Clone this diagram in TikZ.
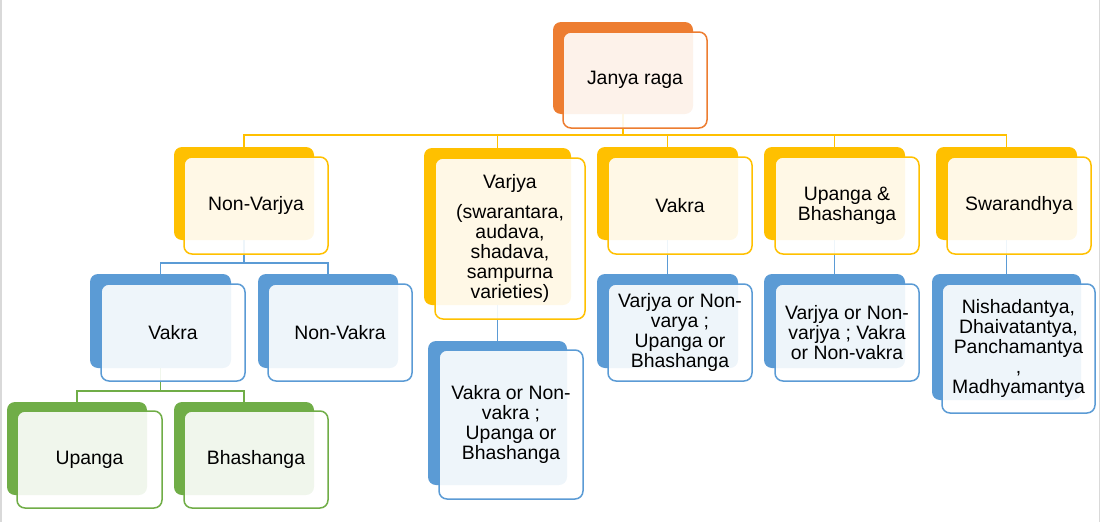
\documentclass[tikz,border=0pt]{standalone}
\usepackage{fontspec}
\setmainfont{Liberation Sans}
\definecolor{cOr}{HTML}{ED7D31}
\definecolor{cYe}{HTML}{FFC000}
\definecolor{cBl}{HTML}{5B9BD5}
\definecolor{cGr}{HTML}{70AD47}
\definecolor{cEdge}{HTML}{D9D9D9}
\begin{document}
\begin{tikzpicture}[x=1pt,y=-1pt,
  sz/.style 2 args={minimum width=#1pt, minimum height=#2pt},
  back/.style={rectangle, rounded corners=8pt, inner sep=0pt, fill=#1},
  front/.style={rectangle, rounded corners=8pt, inner sep=0pt, draw=#1, line width=1.5pt,
    fill=white, fill opacity=0.9, draw opacity=1, text opacity=1, align=center, text=black,
    font=\fontsize{19.4}{20}\selectfont},
  link/.style={draw=#1, line width=1.5pt},
]
\useasboundingbox (0,0) rectangle (1100,522);
\draw[cEdge, line width=1.5pt] (0.75,0) -- (0.75,522);
\draw[cEdge, line width=1.5pt] (1099.25,0) -- (1099.25,522);

% back plates
\node[back=cOr, sz={140}{92}]  (rootb) at (623,68) {};
\node[back=cYe, sz={140}{93}]  (nvb)   at (244,193.5) {};
\node[back=cYe, sz={147}{157}] (vab)   at (497.5,226.5) {};
\node[back=cYe, sz={141}{93}]  (vkb)   at (667.5,193.5) {};
\node[back=cYe, sz={141}{93}]  (ubb)   at (834.5,193.5) {};
\node[back=cYe, sz={141}{93}]  (swb)   at (1006.5,193.5) {};
\node[back=cBl, sz={141}{94}]  (nvvb)  at (160.5,321) {};
\node[back=cBl, sz={140}{94}]  (nvnb)  at (328,321) {};
\node[back=cBl, sz={139}{144}] (vacb)  at (497.5,413) {};
\node[back=cBl, sz={141}{94}]  (vkcb)  at (667.5,321) {};
\node[back=cBl, sz={141}{94}]  (ubcb)  at (834.5,321) {};
\node[back=cBl, sz={149}{126}] (swcb)  at (1006.5,337) {};
\node[back=cGr, sz={140}{93}]  (upb)   at (77,448.5) {};
\node[back=cGr, sz={140}{93}]  (bhb)   at (244,448.5) {};

% connectors
\foreach \c in {nvb,vab,vkb,ubb,swb}
  \draw[link=cYe] (rootb.south) -- ++(0,21) -| (\c.north);
\foreach \c in {nvvb,nvnb}
  \draw[link=cBl] (nvb.south) -- ++(0,23) -| (\c.north);
\draw[link=cBl] (vab.south) -- (vacb.north);
\draw[link=cBl] (vkb.south) -- (vkcb.north);
\draw[link=cBl] (ubb.south) -- (ubcb.north);
\draw[link=cBl] (swb.south) -- (swcb.north);
\foreach \c in {upb,bhb}
  \draw[link=cGr] (nvvb.south) -- ++(0,23) -| (\c.north);

% front cards
\node[front=cOr, sz={144}{96}]  (root) at (635,80) {Janya raga};
\node[front=cYe, sz={144}{97}]  (nv)   at (256,205.5) {Non-Varjya};
\node[front=cYe, sz={150}{161}] (va)   at (510,238.5) {Varjya\\[10pt](swarantara,\\audava,\\shadava,\\sampurna\\varieties)};
\node[front=cYe, sz={144}{97}]  (vk)   at (680,205.5) {Vakra};
\node[front=cYe, sz={144}{97}]  (ub)   at (847,205.5) {Upanga \&\\Bhashanga};
\node[front=cYe, sz={144}{97}]  (sw)   at (1019,205.5) {Swarandhya};
\node[front=cBl, sz={144}{97}]  (nvv)  at (173,332.5) {Vakra};
\node[front=cBl, sz={144}{97}]  (nvn)  at (340,332.5) {Non-Vakra};
\node[front=cBl, sz={144}{149}] (vac)  at (511,424.5) {Vakra or Non-\\vakra ;\\Upanga or\\Bhashanga};
\node[front=cBl, sz={144}{97}]  (vkc)  at (680,332.5) {Varjya or Non-\\varya ;\\Upanga or\\Bhashanga};
\node[front=cBl, sz={144}{97}]  (ubc)  at (847,332.5) {Varjya or Non-\\varjya ; Vakra\\or Non-vakra};
\node[front=cBl, sz={153}{129}] (swc)  at (1018.5,348.5) {Nishadantya,\\Dhaivatantya,\\Panchamantya\\,\\Madhyamantya};
\node[front=cGr, sz={145}{97}]  (up)   at (89.5,459.5) {Upanga};
\node[front=cGr, sz={144}{97}]  (bh)   at (256,459.5) {Bhashanga};
\end{tikzpicture}
\end{document}
